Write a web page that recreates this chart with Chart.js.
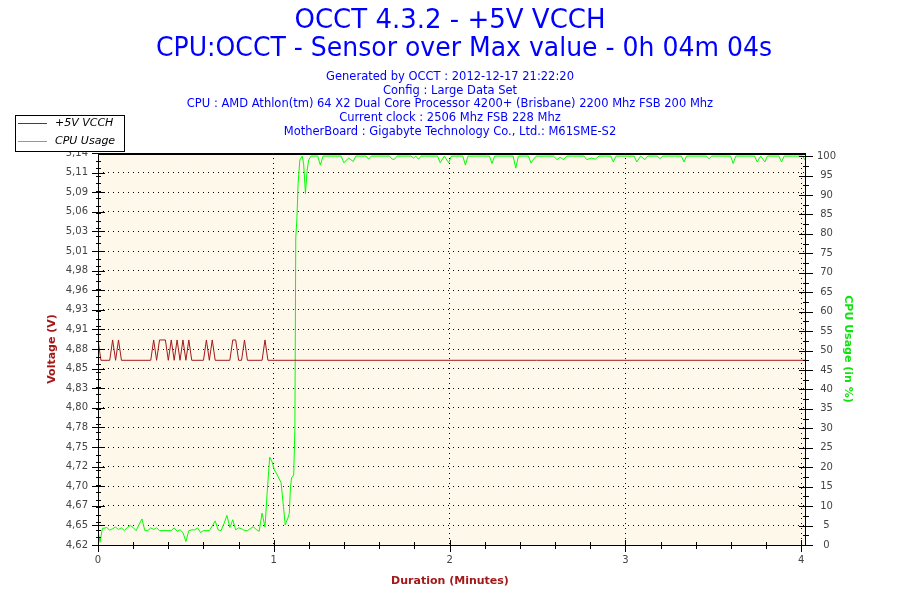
<!DOCTYPE html>
<html>
<head>
<meta charset="utf-8">
<title>OCCT 4.3.2 - +5V VCCH</title>
<script src="https://cdn.jsdelivr.net/npm/chart.js@4.4.1/dist/chart.umd.min.js"></script>
<style>
  html, body { margin: 0; padding: 0; background: #fff; }
  #wrap { width: 900px; height: 600px; }
</style>
</head>
<body>
<div id="wrap"><canvas id="occtChart" width="900" height="600"></canvas></div>
<script>
// texts
const titleLines = ['OCCT 4.3.2 - +5V VCCH', 'CPU:OCCT - Sensor over Max value - 0h 04m 04s'];
const infoLines = [
    'Generated by OCCT : 2012-12-17 21:22:20',
    'Config : Large Data Set',
    'CPU : AMD Athlon(tm) 64 X2 Dual Core Processor 4200+ (Brisbane) 2200 Mhz FSB 200 Mhz',
    'Current clock : 2506 Mhz FSB 228 Mhz',
    'MotherBoard : Gigabyte Technology Co., Ltd.: M61SME-S2'
];
const legendLabels = ['+5V VCCH', 'CPU Usage'];
const xTitle = 'Duration (Minutes)';
const voltTitle = 'Voltage (V)';
const cpuTitle = 'CPU Usage (in %)';

// left axis labels (21 evenly spaced ticks from 4.62 to 5.14)
const voltTickLabels = ['4,62', '4,65', '4,67', '4,70', '4,72', '4,75', '4,78', '4,80', '4,83', '4,85', '4,88',
    '4,91', '4,93', '4,96', '4,98', '5,01', '5,03', '5,06', '5,09', '5,11', '5,14'];

// +5V VCCH : time in seconds, value in volts
const voltTimes = [0, 1, 4, 5, 6, 7, 8, 18, 19, 20, 21, 23, 24, 25, 26, 27, 28, 29, 30, 31, 32,
    36, 37, 38, 39, 40, 45, 46, 47, 48, 49, 50, 51, 56, 57, 58, 241.3];
const voltValues = [4.892, 4.865, 4.865, 4.892, 4.865, 4.892, 4.865, 4.865, 4.892, 4.865, 4.892, 4.892, 4.865,
    4.892, 4.865, 4.892, 4.865, 4.892, 4.865, 4.892, 4.865, 4.865, 4.892, 4.865, 4.892, 4.865, 4.865,
    4.892, 4.892, 4.865, 4.865, 4.892, 4.865, 4.865, 4.892, 4.865, 4.865];

// CPU Usage : time in seconds, value in %
const cpuTimes = [0, 0.7, 1.5, 2, 3, 4, 5, 6, 7, 8, 9, 10, 11, 12, 13, 14, 15, 16, 17, 18, 19, 20, 21, 25,
    26, 27, 28, 29, 30, 31, 32, 33, 34, 35, 36, 38, 39, 40, 41, 42, 43, 44, 45, 46, 47, 48, 49, 50,
    51, 52, 53, 54, 55, 56, 57, 57.7, 58.6, 59.4, 60.2, 61.2, 62.5, 63.3, 63.9, 64.8, 65.3, 65.7, 66.1,
    66.8, 67.2, 67.5, 67.9, 68.3, 68.9, 69.7, 70.2, 70.8, 71.4, 71.9, 72.7,
    75, 75.9, 76.8, 83, 83.9, 85.6, 87.1, 88, 91.5, 92.4, 93.3, 99.5, 100.4, 101.2, 102.1,
    106.8, 107.7, 108.5, 109.4, 110.3, 115.9, 116.8, 118.2, 119.7, 120.6, 124.5, 125.4, 126.3,
    133.6, 134.5, 135.4, 141.7, 142.6, 143.5, 146.9, 147.8, 148.7, 149.6,
    155.5, 156.7, 157.7, 158.9, 160, 165.9, 166.8, 168.5, 169.7, 171, 175, 175.9, 176.8,
    183, 183.9, 185.2, 186.7, 187.6, 190.9, 191.8, 192.7, 199.1, 200, 200.9, 207.7, 208.6, 209.5,
    215.9, 216.8, 217.7, 224.1, 225, 226.2, 227.6, 228.5, 232.4, 233.3, 234.2, 240.5, 241.3];
const cpuValues = [3.5, 0.7, 4.3, 4.3, 4.5, 3.8, 4.2, 4.6, 4.0, 4.4, 3.7, 4.5, 5.0, 4.5, 3.7, 5.2, 6.7, 3.7, 3.7, 4.4, 4.0, 4.4, 3.7, 3.7,
    4.4, 3.5, 3.9, 3.2, 0.9, 3.7, 3.9, 3.9, 4.4, 3.2, 3.7, 3.7, 4.9, 6.2, 3.9, 3.7, 5.5, 7.6, 4.5, 6.5, 3.9, 4.4, 4.2, 3.7,
    3.7, 4.2, 4.7, 4.0, 3.5, 8.2, 4.6, 13, 22.6, 21.4, 19.3, 18.0, 16.0, 9.9, 5.2, 6.9, 8.1, 15, 17.3,
    18.0, 30, 79, 84, 93, 99, 100, 98, 90.4, 96.4, 99, 100,
    100, 97.7, 100, 100, 98.3, 99.5, 98.6, 100, 100, 99.2, 100, 100, 99.2, 99.2, 100,
    100, 99.5, 100, 99.2, 100, 100, 98.3, 100, 98.3, 100, 100, 97.7, 100,
    100, 98.1, 100, 100, 96.9, 100, 100, 98.2, 99.2, 100,
    100, 99.1, 99.7, 99.1, 100, 100, 99.1, 99.5, 99.2, 100, 100, 98.5, 100,
    100, 98.5, 100, 99.1, 100, 100, 99.3, 100, 100, 98.5, 100, 100, 99.3, 100,
    100, 98.1, 100, 100, 98.5, 100, 98.5, 100, 100, 98.5, 100, 100, 99];

const VOLT_COLOR = '#a31919';
const CPU_COLOR = '#00ff00';
const TEXT_BLUE = '#0000ff';
const PLOT_BG = '#fdf8ea';
const FONT = '"DejaVu Sans", Verdana, sans-serif';

function isWhole(v) {
    return Math.abs(v - Math.round(v)) < 1e-6;
}

// background, frame, tick marks, legend and texts
const occtFrame = {
    id: 'occtFrame',
    beforeDraw(chart) {
        const { ctx, chartArea: a } = chart;
        ctx.save();
        ctx.fillStyle = '#fff';
        ctx.fillRect(0, 0, chart.width, chart.height);
        ctx.fillStyle = PLOT_BG;
        ctx.fillRect(a.left, a.top, a.right - a.left, a.bottom - a.top);
        ctx.restore();
    },
    afterDraw(chart) {
        const { ctx, chartArea: a, scales } = chart;
        const L = Math.round(a.left), R = Math.round(a.right), T = Math.round(a.top), B = Math.round(a.bottom);
        ctx.save();

        // frame
        ctx.strokeStyle = '#000';
        ctx.lineWidth = 1;
        ctx.beginPath();
        ctx.moveTo(L + 0.5, T);
        ctx.lineTo(L + 0.5, B + 0.5);
        ctx.lineTo(R + 0.5, B + 0.5);
        ctx.lineTo(R + 0.5, T);
        ctx.stroke();
        ctx.lineWidth = 2;
        ctx.beginPath();
        ctx.moveTo(L, T + 1);
        ctx.lineTo(R + 1, T + 1);
        ctx.stroke();

        // tick marks
        ctx.lineWidth = 1;
        ctx.beginPath();
        scales.x.ticks.forEach(t => {
            const px = Math.round(scales.x.getPixelForValue(t.value)) + 0.5;
            const big = isWhole(t.value);
            ctx.moveTo(px, B - (big ? 5 : 3));
            ctx.lineTo(px, B + (big ? 7 : 4));
        });
        scales.y.ticks.forEach(t => {
            const py = Math.round(scales.y.getPixelForValue(t.value)) + 0.5;
            ctx.moveTo(L - 6, py);
            ctx.lineTo(L + 7, py);
        });
        for (let v = 4.62; v <= 5.1401; v += 0.01) {
            const py = Math.round(scales.y.getPixelForValue(v)) + 0.5;
            ctx.moveTo(L - 2, py);
            ctx.lineTo(L + 3, py);
        }
        scales.y1.ticks.forEach(t => {
            const py = Math.round(scales.y1.getPixelForValue(t.value)) + 0.5;
            ctx.moveTo(R - 6, py);
            ctx.lineTo(R + 8, py);
        });
        for (let v = 2.5; v < 100; v += 5) {
            const py = Math.round(scales.y1.getPixelForValue(v)) + 0.5;
            ctx.moveTo(R - 2, py);
            ctx.lineTo(R + 4, py);
        }
        ctx.stroke();

        // legend box
        ctx.fillStyle = '#fff';
        ctx.fillRect(15, 115, 110, 37);
        ctx.strokeStyle = '#000';
        ctx.strokeRect(15.5, 115.5, 109, 36);
        const legendColors = [VOLT_COLOR, CPU_COLOR];
        ctx.font = 'italic 11px ' + FONT;
        ctx.textAlign = 'left';
        ctx.textBaseline = 'middle';
        legendLabels.forEach((lab, i) => {
            const ly = 123.5 + i * 18;
            ctx.strokeStyle = legendColors[i];
            ctx.beginPath();
            ctx.moveTo(18, ly);
            ctx.lineTo(47, ly);
            ctx.stroke();
            ctx.fillStyle = '#000';
            ctx.fillText(lab, 55, ly);
        });

        // titles
        ctx.textAlign = 'center';
        ctx.fillStyle = TEXT_BLUE;
        ctx.font = '26px ' + FONT;
        ctx.fillText(titleLines[0], 450, 21);
        ctx.fillText(titleLines[1], 464, 49, 616);
        ctx.font = '11.5px ' + FONT;
        infoLines.forEach((line, i) => ctx.fillText(line, 450, 77 + i * 13.7));

        // axis titles
        ctx.font = 'bold 11px ' + FONT;
        ctx.fillStyle = VOLT_COLOR;
        ctx.fillText(xTitle, 450, 581);
        ctx.save();
        ctx.translate(52, 349);
        ctx.rotate(-Math.PI / 2);
        ctx.fillText(voltTitle, 0, 0);
        ctx.restore();
        ctx.save();
        ctx.fillStyle = '#11e011';
        ctx.translate(848, 349);
        ctx.rotate(Math.PI / 2);
        ctx.fillText(cpuTitle, 0, 0);
        ctx.restore();

        ctx.restore();
    }
};

const tickFont = { family: FONT, size: 10 };

new Chart(document.getElementById('occtChart'), {
    type: 'line',
    data: {
        datasets: [{
            label: legendLabels[0],
            data: voltTimes.map((t, i) => ({ x: t / 60, y: voltValues[i] })),
            yAxisID: 'y',
            borderColor: VOLT_COLOR,
            borderWidth: 1,
            pointRadius: 0,
            tension: 0
        }, {
            label: legendLabels[1],
            data: cpuTimes.map((t, i) => ({ x: t / 60, y: cpuValues[i] })),
            yAxisID: 'y1',
            borderColor: CPU_COLOR,
            borderWidth: 1,
            pointRadius: 0,
            tension: 0
        }]
    },
    options: {
        responsive: false,
        animation: false,
        devicePixelRatio: 1,
        layout: { padding: { top: 153, left: 0, right: 0, bottom: 0 } },
        plugins: { legend: { display: false }, tooltip: { enabled: false }, title: { display: false } },
        scales: {
            x: {
                type: 'linear',
                min: 0,
                max: 4.022,
                afterFit(scale) { scale.height = 55; },
                ticks: {
                    stepSize: 0.2,
                    includeBounds: false,
                    autoSkip: false,
                    maxRotation: 0,
                    padding: 9,
                    color: '#444',
                    font: tickFont,
                    callback: v => isWhole(v) ? String(Math.round(v)) : ''
                },
                grid: {
                    drawTicks: false,
                    lineWidth: 1,
                    color: c => (c.tick && isWhole(c.tick.value) && c.tick.value > 0) ? '#000' : 'rgba(0,0,0,0)',
                    borderDash: [1, 4]
                },
                border: { display: false, dash: [1, 4] }
            },
            y: {
                type: 'linear',
                position: 'left',
                min: 4.62,
                max: 5.14,
                afterFit(scale) { scale.width = 98; },
                ticks: {
                    stepSize: 0.026,
                    autoSkip: false,
                    padding: 10,
                    color: '#444',
                    font: tickFont,
                    callback: (v, i) => voltTickLabels[i]
                },
                grid: { drawTicks: false, lineWidth: 1, color: '#000', borderDash: [1, 4] },
                border: { display: false, dash: [1, 4] }
            },
            y1: {
                type: 'linear',
                position: 'right',
                min: 0,
                max: 100.8,
                afterFit(scale) { scale.width = 95; },
                ticks: {
                    stepSize: 5,
                    includeBounds: false,
                    autoSkip: false,
                    padding: 12,
                    crossAlign: 'center',
                    color: '#444',
                    font: tickFont
                },
                grid: { display: false, drawTicks: false },
                border: { display: false }
            }
        }
    },
    plugins: [occtFrame]
});
</script>
</body>
</html>
